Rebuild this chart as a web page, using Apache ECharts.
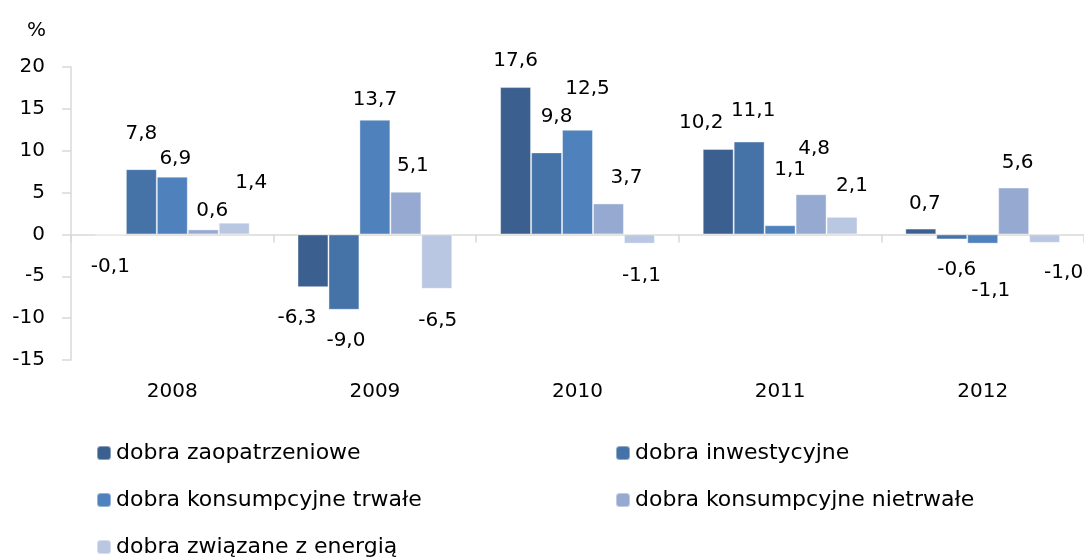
<!DOCTYPE html>
<html>
<head>
<meta charset="utf-8">
<script src="https://cdn.jsdelivr.net/npm/echarts@6/dist/echarts.min.js"></script>
<style>
  html, body { margin: 0; padding: 0; background: #fff; }
  #main { width: 1084px; height: 558px; }
</style>
</head>
<body>
<div id="main"></div>
<script>
  // dane
  const years = ['2008', '2009', '2010', '2011', '2012']
  const seriesNames = [
    'dobra zaopatrzeniowe',
    'dobra inwestycyjne',
    'dobra konsumpcyjne trwałe',
    'dobra konsumpcyjne nietrwałe',
    'dobra związane z energią'
  ]
  const zaopatrzeniowe = [-0.1, -6.3, 17.6, 10.2, 0.7]
  const inwestycyjne = [7.8, -9.0, 9.8, 11.1, -0.6]
  const konsTrwale = [6.9, 13.7, 12.5, 1.1, -1.1]
  const konsNietrwale = [0.6, 5.1, 3.7, 4.8, 5.6]
  const energia = [1.4, -6.5, -1.1, 2.1, -1.0]
  const yTicks = [-15, -10, -5, 0, 5, 10, 15, 20]

  // wygląd
  const colors = ['#3B5F8E', '#4573A8', '#4F81BD', '#95A9D1', '#B9C7E3']
  const font = '"DejaVu Sans", sans-serif'
  // przesunięcie etykiet jak w oryginale: [dx, odstęp środka etykiety od końca słupka]
  const labelShift = [
    [[0, 31], [-16, 31], [0, 26], [-17, 26], [4, 25]],
    [[0, 35], [2, 31], [10, 36], [4, 31], [5, 30]],
    [[3, 18], [0, 20], [10, 41], [10, 55], [8, 47]],
    [[9, 19], [7, 26], [18, 26], [3, 45], [4, 25]],
    [[17, 40], [1, 32], [2, 32], [10, 31], [19, 30]]
  ]
  const allValues = [zaopatrzeniowe, inwestycyjne, konsTrwale, konsNietrwale, energia]

  const chart = echarts.init(document.getElementById('main'))

  const series = allValues.map((vals, i) => ({
    name: seriesNames[i],
    type: 'bar',
    barGap: '0%',
    barCategoryGap: '23.6%',
    itemStyle: { color: colors[i], borderColor: 'rgba(255,255,255,0.4)', borderWidth: 1 },
    label: {
      show: true,
      fontFamily: font,
      fontSize: 20,
      lineHeight: 20,
      color: '#000',
      distance: 0,
      formatter: p => p.value.toFixed(1).replace('.', ',')
    },
    data: vals.map((v, j) => {
      const s = labelShift[i][j]
      return {
        value: v,
        label: {
          position: v < 0 ? 'bottom' : 'top',
          offset: [s[0], v < 0 ? s[1] - 10 : -(s[1] - 10)]
        }
      }
    })
  }))

  const legendText = { fontFamily: font, fontSize: 22, color: '#000' }

  chart.setOption({
    animation: false,
    color: colors,
    title: {
      text: '%',
      left: 27,
      top: 21,
      padding: 0,
      textStyle: { fontFamily: font, fontSize: 20, fontWeight: 'normal', color: '#000' }
    },
    legend: [
      {
        data: [seriesNames[0], seriesNames[2], seriesNames[4]],
        orient: 'vertical',
        left: 96,
        top: 442,
        height: 140,
        padding: 0,
        itemWidth: 14,
        itemHeight: 14,
        itemGap: 25,
        textStyle: legendText
      },
      {
        data: [seriesNames[1], seriesNames[3]],
        orient: 'vertical',
        left: 615,
        top: 442,
        height: 140,
        padding: 0,
        itemWidth: 14,
        itemHeight: 14,
        itemGap: 25,
        textStyle: legendText
      }
    ],
    grid: { left: 71, right: -3, top: 67, bottom: 198 },
    xAxis: [
      {
        type: 'category',
        data: years,
        position: 'bottom',
        axisLine: { show: false, onZero: false },
        axisTick: { show: false },
        axisLabel: { fontFamily: font, fontSize: 20, color: '#000', margin: 22 }
      },
      {
        type: 'category',
        data: years,
        position: 'bottom',
        axisLine: { onZero: true, lineStyle: { color: '#D9D9D9', width: 1.5 } },
        axisTick: { show: true, length: 8, lineStyle: { color: '#D9D9D9', width: 1.5 } },
        axisLabel: { show: false }
      }
    ],
    yAxis: {
      type: 'value',
      min: yTicks[0],
      max: yTicks[yTicks.length - 1],
      interval: 5,
      splitLine: { show: false },
      axisLine: { show: true, lineStyle: { color: '#D9D9D9', width: 1.5 } },
      axisTick: { show: true, length: 9, lineStyle: { color: '#D9D9D9', width: 1.5 } },
      axisLabel: { fontFamily: font, fontSize: 20, color: '#000', margin: 26 }
    },
    series: series
  })
</script>
</body>
</html>
